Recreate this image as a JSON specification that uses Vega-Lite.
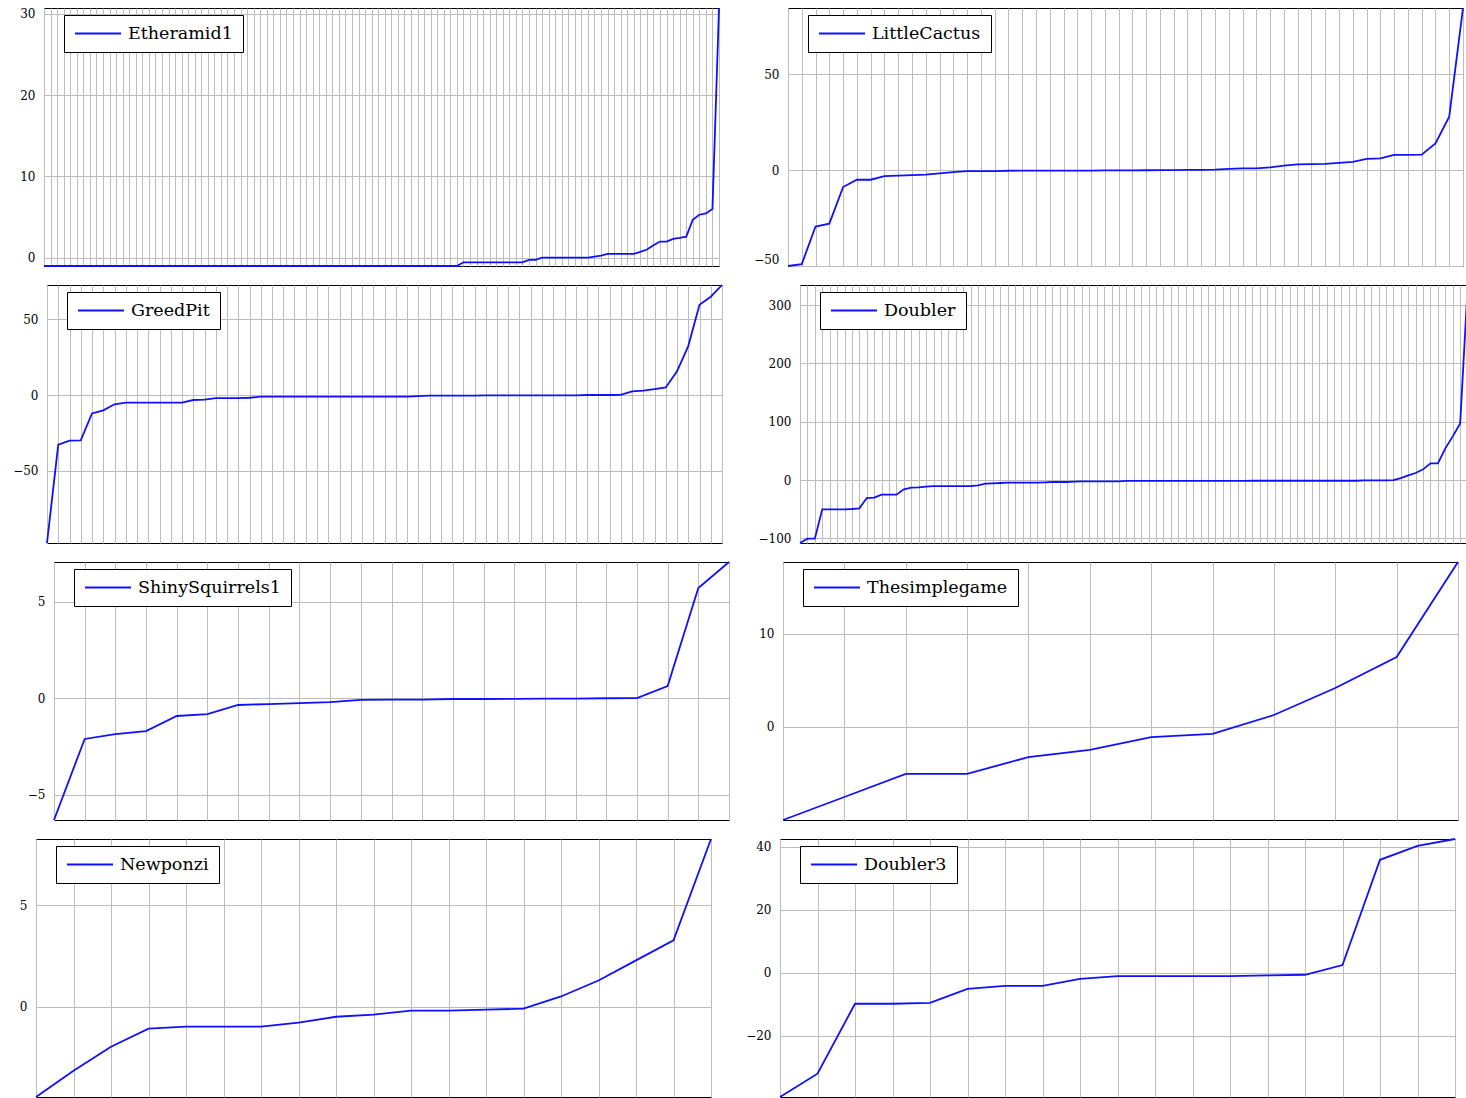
{
  "$schema": "https://vega.github.io/schema/vega-lite/v6.json",
  "padding": {"left": 0, "top": 3, "right": 0, "bottom": 0},
  "background": "white",
  "config": {
    "view": {"stroke": "#000", "strokeWidth": 1},
    "axis": {"labelFont": "DejaVu Serif", "labelFontSize": 12, "labelColor": "#000", "ticks": false, "domain": false, "gridColor": "#bdbdbd", "gridWidth": 1, "gridOpacity": 1, "labelPadding": 9},
    "axisX": {"labelPadding": 0, "minExtent": 0, "maxExtent": 0},
    "legend": {"labelFont": "DejaVu Serif", "labelFontSize": 17.5, "labelColor": "#000", "padding": 10, "strokeColor": "#000", "strokeWidth": 1, "fillColor": "#fff", "symbolType": "stroke", "symbolSize": 2116, "symbolStrokeWidth": 1.8, "labelOffset": 6, "cornerRadius": 0, "orient": "none", "legendX": 20, "legendY": 7, "clipHeight": 17},
    "line": {"strokeWidth": 1.8, "clip": true}
  },
  "columns": 3,
  "align": "none",
  "spacing": {"row": 9, "column": 10},
  "resolve": {"scale": {"color": "independent"}},
  "concat": [
      {"width": 1, "height": 1, "view": {"stroke": null}, "data": {"values": []}, "mark": "point"},
      {
        "width": 675, "height": 258,
        "data": {"values": [
          {"i":0,"v":-1},{"i":1,"v":-1},{"i":2,"v":-1},{"i":3,"v":-1},{"i":4,"v":-1},{"i":5,"v":-1},{"i":6,"v":-1},{"i":7,"v":-1},{"i":8,"v":-1},{"i":9,"v":-1},
          {"i":10,"v":-1},{"i":11,"v":-1},{"i":12,"v":-1},{"i":13,"v":-1},{"i":14,"v":-1},{"i":15,"v":-1},{"i":16,"v":-1},{"i":17,"v":-1},{"i":18,"v":-1},{"i":19,"v":-1},
          {"i":20,"v":-1},{"i":21,"v":-1},{"i":22,"v":-1},{"i":23,"v":-1},{"i":24,"v":-1},{"i":25,"v":-1},{"i":26,"v":-1},{"i":27,"v":-1},{"i":28,"v":-1},{"i":29,"v":-1},
          {"i":30,"v":-1},{"i":31,"v":-1},{"i":32,"v":-1},{"i":33,"v":-1},{"i":34,"v":-1},{"i":35,"v":-1},{"i":36,"v":-1},{"i":37,"v":-1},{"i":38,"v":-1},{"i":39,"v":-1},
          {"i":40,"v":-1},{"i":41,"v":-1},{"i":42,"v":-1},{"i":43,"v":-1},{"i":44,"v":-1},{"i":45,"v":-1},{"i":46,"v":-1},{"i":47,"v":-1},{"i":48,"v":-1},{"i":49,"v":-1},
          {"i":50,"v":-1},{"i":51,"v":-1},{"i":52,"v":-1},{"i":53,"v":-1},{"i":54,"v":-1},{"i":55,"v":-1},{"i":56,"v":-1},{"i":57,"v":-1},{"i":58,"v":-1},{"i":59,"v":-1},
          {"i":60,"v":-1},{"i":61,"v":-1},{"i":62,"v":-1},{"i":63,"v":-1},{"i":64,"v":-0.55},{"i":65,"v":-0.55},{"i":66,"v":-0.55},{"i":67,"v":-0.55},{"i":68,"v":-0.55},{"i":69,"v":-0.55},
          {"i":70,"v":-0.55},{"i":71,"v":-0.55},{"i":72,"v":-0.55},{"i":73,"v":-0.55},{"i":74,"v":-0.25},{"i":75,"v":-0.25},{"i":76,"v":0.04},{"i":77,"v":0.04},{"i":78,"v":0.04},{"i":79,"v":0.04},
          {"i":80,"v":0.04},{"i":81,"v":0.04},{"i":82,"v":0.04},{"i":83,"v":0.04},{"i":84,"v":0.16},{"i":85,"v":0.28},{"i":86,"v":0.49},{"i":87,"v":0.49},{"i":88,"v":0.49},{"i":89,"v":0.49},
          {"i":90,"v":0.49},{"i":91,"v":0.73},{"i":92,"v":1.02},{"i":93,"v":1.55},{"i":94,"v":2.0},{"i":95,"v":2.0},{"i":96,"v":2.33},{"i":97,"v":2.45},{"i":98,"v":2.61},{"i":99,"v":4.69},
          {"i":100,"v":5.3},{"i":101,"v":5.46},{"i":102,"v":6.0},{"i":103,"v":30.7}
        ]},
        "mark": {"type": "line"},
        "encoding": {
          "x": {"field": "i", "type": "quantitative", "scale": {"domain": [0, 103], "nice": false, "zero": false}, "axis": {"title": null, "labels": false, "grid": true, "tickCount": 103}},
          "y": {"field": "v", "type": "quantitative", "scale": {"domain": [-1, 30.7], "nice": false, "zero": false}, "axis": {"title": null, "values": [0, 10, 20, 30], "minExtent": 32}},
          "color": {"datum": "Etheramid1", "type": "nominal", "scale": {"range": ["#1010ff"]}, "legend": {"title": null}}
        }
      },
      {
        "width": 675, "height": 258,
        "data": {"values": [
          {"i":0,"v":-50},{"i":1,"v":-49},{"i":2,"v":-29.4},{"i":3,"v":-27.9},{"i":4,"v":-8.8},{"i":5,"v":-5},{"i":6,"v":-5},{"i":7,"v":-3.1},{"i":8,"v":-2.9},{"i":9,"v":-2.6},
          {"i":10,"v":-2.3},{"i":11,"v":-1.7},{"i":12,"v":-1},{"i":13,"v":-0.5},{"i":14,"v":-0.5},{"i":15,"v":-0.5},{"i":16,"v":-0.3},{"i":17,"v":-0.2},{"i":18,"v":-0.2},{"i":19,"v":-0.2},
          {"i":20,"v":-0.2},{"i":21,"v":-0.2},{"i":22,"v":-0.2},{"i":23,"v":-0.15},{"i":24,"v":-0.1},{"i":25,"v":-0.1},{"i":26,"v":-0.05},{"i":27,"v":0},{"i":28,"v":0},{"i":29,"v":0.2},
          {"i":30,"v":0.2},{"i":31,"v":0.3},{"i":32,"v":0.7},{"i":33,"v":0.9},{"i":34,"v":0.9},{"i":35,"v":1.4},{"i":36,"v":2.4},{"i":37,"v":3},{"i":38,"v":3.1},{"i":39,"v":3.3},
          {"i":40,"v":3.8},{"i":41,"v":4.3},{"i":42,"v":5.9},{"i":43,"v":6.1},{"i":44,"v":8},{"i":45,"v":8},{"i":46,"v":8.1},{"i":47,"v":14},{"i":48,"v":27.9},{"i":49,"v":84.6}
        ]},
        "mark": {"type": "line"},
        "encoding": {
          "x": {"field": "i", "type": "quantitative", "scale": {"domain": [0, 49], "nice": false, "zero": false}, "axis": {"title": null, "labels": false, "grid": true, "tickCount": 49}},
          "y": {"field": "v", "type": "quantitative", "scale": {"domain": [-50, 84.6], "nice": false, "zero": false}, "axis": {"title": null, "values": [-50, 0, 50], "minExtent": 53, "labelFlush": true}},
          "color": {"datum": "LittleCactus", "type": "nominal", "scale": {"range": ["#1010ff"]}, "legend": {"title": null}}
        }
      },
      {"width": 1, "height": 1, "view": {"stroke": null}, "data": {"values": []}, "mark": "point"},
      {
        "width": 675, "height": 258,
        "data": {"values": [
          {"i":0,"v":-97.4},{"i":1,"v":-32.7},{"i":2,"v":-30},{"i":3,"v":-29.8},{"i":4,"v":-12.1},{"i":5,"v":-10.1},{"i":6,"v":-6.1},{"i":7,"v":-5},{"i":8,"v":-5},{"i":9,"v":-5},
          {"i":10,"v":-5},{"i":11,"v":-5},{"i":12,"v":-5},{"i":13,"v":-3.3},{"i":14,"v":-3.1},{"i":15,"v":-2},{"i":16,"v":-2},{"i":17,"v":-2},{"i":18,"v":-1.8},{"i":19,"v":-1.1},
          {"i":20,"v":-1.1},{"i":21,"v":-1.1},{"i":22,"v":-1.1},{"i":23,"v":-1.1},{"i":24,"v":-1.1},{"i":25,"v":-1.1},{"i":26,"v":-1.1},{"i":27,"v":-1.1},{"i":28,"v":-1.1},{"i":29,"v":-1.1},
          {"i":30,"v":-1.1},{"i":31,"v":-1.1},{"i":32,"v":-1.1},{"i":33,"v":-0.7},{"i":34,"v":-0.4},{"i":35,"v":-0.4},{"i":36,"v":-0.4},{"i":37,"v":-0.4},{"i":38,"v":-0.4},{"i":39,"v":-0.2},
          {"i":40,"v":-0.2},{"i":41,"v":-0.2},{"i":42,"v":-0.2},{"i":43,"v":-0.2},{"i":44,"v":-0.2},{"i":45,"v":-0.2},{"i":46,"v":-0.2},{"i":47,"v":-0.2},{"i":48,"v":0},{"i":49,"v":0},
          {"i":50,"v":0},{"i":51,"v":0.1},{"i":52,"v":2.4},{"i":53,"v":2.9},{"i":54,"v":3.9},{"i":55,"v":5},{"i":56,"v":15.6},{"i":57,"v":32.2},{"i":58,"v":59.4},{"i":59,"v":64.7},
          {"i":60,"v":72.4}
        ]},
        "mark": {"type": "line"},
        "encoding": {
          "x": {"field": "i", "type": "quantitative", "scale": {"domain": [0, 60], "nice": false, "zero": false}, "axis": {"title": null, "labels": false, "grid": true, "tickCount": 60}},
          "y": {"field": "v", "type": "quantitative", "scale": {"domain": [-97.4, 72.4], "nice": false, "zero": false}, "axis": {"title": null, "values": [-50, 0, 50], "minExtent": 35}},
          "color": {"datum": "GreedPit", "type": "nominal", "scale": {"range": ["#1010ff"]}, "legend": {"title": null}}
        }
      },
      {
        "width": 675, "height": 258,
        "data": {"values": [
          {"i":0,"v":-108},{"i":1,"v":-100.6},{"i":2,"v":-100.6},{"i":3,"v":-50.3},{"i":4,"v":-50.3},{"i":5,"v":-50.3},{"i":6,"v":-50.3},{"i":7,"v":-49.7},{"i":8,"v":-48.6},{"i":9,"v":-30.9},
          {"i":10,"v":-30.3},{"i":11,"v":-25.1},{"i":12,"v":-25.1},{"i":13,"v":-25.1},{"i":14,"v":-16},{"i":15,"v":-13.1},{"i":16,"v":-12.6},{"i":17,"v":-11.4},{"i":18,"v":-10.3},{"i":19,"v":-10.3},
          {"i":20,"v":-10.3},{"i":21,"v":-10.3},{"i":22,"v":-10.3},{"i":23,"v":-10.3},{"i":24,"v":-9.1},{"i":25,"v":-6.3},{"i":26,"v":-5.7},{"i":27,"v":-5.1},{"i":28,"v":-4.6},{"i":29,"v":-4.6},
          {"i":30,"v":-4.6},{"i":31,"v":-4.6},{"i":32,"v":-4.6},{"i":33,"v":-4},{"i":34,"v":-3.4},{"i":35,"v":-3.4},{"i":36,"v":-3.4},{"i":37,"v":-2.9},{"i":38,"v":-2.3},{"i":39,"v":-2.3},
          {"i":40,"v":-2.3},{"i":41,"v":-2.3},{"i":42,"v":-2.3},{"i":43,"v":-2.3},{"i":44,"v":-1.5},{"i":45,"v":-1.5},{"i":46,"v":-1.5},{"i":47,"v":-1.5},{"i":48,"v":-1.5},{"i":49,"v":-1.5},
          {"i":50,"v":-1.5},{"i":51,"v":-1.5},{"i":52,"v":-1.5},{"i":53,"v":-1.5},{"i":54,"v":-1.5},{"i":55,"v":-1.5},{"i":56,"v":-1.5},{"i":57,"v":-1.5},{"i":58,"v":-1.5},{"i":59,"v":-1.5},
          {"i":60,"v":-1.5},{"i":61,"v":-1.2},{"i":62,"v":-1.2},{"i":63,"v":-1.2},{"i":64,"v":-1.2},{"i":65,"v":-1.2},{"i":66,"v":-1.2},{"i":67,"v":-1.2},{"i":68,"v":-1.2},{"i":69,"v":-1.2},
          {"i":70,"v":-1.2},{"i":71,"v":-1.2},{"i":72,"v":-1.2},{"i":73,"v":-1.2},{"i":74,"v":-1.2},{"i":75,"v":-1.2},{"i":76,"v":-0.6},{"i":77,"v":-0.6},{"i":78,"v":-0.6},{"i":79,"v":-0.6},
          {"i":80,"v":-0.3},{"i":81,"v":3.4},{"i":82,"v":8},{"i":83,"v":12},{"i":84,"v":18.3},{"i":85,"v":28.6},{"i":86,"v":28.6},{"i":87,"v":54.3},{"i":88,"v":74.9},{"i":89,"v":97.1},
          {"i":90,"v":330},{"i":91,"v":334.5}
        ]},
        "mark": {"type": "line"},
        "encoding": {
          "x": {"field": "i", "type": "quantitative", "scale": {"domain": [0, 91], "nice": false, "zero": false}, "axis": {"title": null, "labels": false, "grid": true, "tickCount": 91}},
          "y": {"field": "v", "type": "quantitative", "scale": {"domain": [-108, 334.5], "nice": false, "zero": false}, "axis": {"title": null, "values": [-100, 0, 100, 200, 300], "minExtent": 62}},
          "color": {"datum": "Doubler", "type": "nominal", "scale": {"range": ["#1010ff"]}, "legend": {"title": null}}
        }
      },
      {"width": 1, "height": 1, "view": {"stroke": null}, "data": {"values": []}, "mark": "point"},
      {
        "width": 675, "height": 258,
        "data": {"values": [
          {"i":0,"v":-6.32},{"i":1,"v":-2.12},{"i":2,"v":-1.87},{"i":3,"v":-1.71},{"i":4,"v":-0.93},{"i":5,"v":-0.83},{"i":6,"v":-0.36},{"i":7,"v":-0.31},{"i":8,"v":-0.26},{"i":9,"v":-0.21},
          {"i":10,"v":-0.1},{"i":11,"v":-0.08},{"i":12,"v":-0.08},{"i":13,"v":-0.05},{"i":14,"v":-0.05},{"i":15,"v":-0.04},{"i":16,"v":-0.03},{"i":17,"v":-0.03},{"i":18,"v":-0.01},{"i":19,"v":0},
          {"i":20,"v":0.62},{"i":21,"v":5.7},{"i":22,"v":7.05}
        ]},
        "mark": {"type": "line"},
        "encoding": {
          "x": {"field": "i", "type": "quantitative", "scale": {"domain": [0, 22], "nice": false, "zero": false}, "axis": {"title": null, "labels": false, "grid": true, "tickCount": 22}},
          "y": {"field": "v", "type": "quantitative", "scale": {"domain": [-6.32, 7.05], "nice": false, "zero": false}, "axis": {"title": null, "values": [-5, 0, 5], "minExtent": 42}},
          "color": {"datum": "ShinySquirrels1", "type": "nominal", "scale": {"range": ["#1010ff"]}, "legend": {"title": null}}
        }
      },
      {
        "width": 675, "height": 258,
        "data": {"values": [
          {"i":0,"v":-10},{"i":1,"v":-7.53},{"i":2,"v":-5.05},{"i":3,"v":-5.05},{"i":4,"v":-3.23},{"i":5,"v":-2.47},{"i":6,"v":-1.08},{"i":7,"v":-0.75},{"i":8,"v":1.29},{"i":9,"v":4.19},
          {"i":10,"v":7.53},{"i":11,"v":17.74}
        ]},
        "mark": {"type": "line"},
        "encoding": {
          "x": {"field": "i", "type": "quantitative", "scale": {"domain": [0, 11], "nice": false, "zero": false}, "axis": {"title": null, "labels": false, "grid": true, "tickCount": 11}},
          "y": {"field": "v", "type": "quantitative", "scale": {"domain": [-10, 17.74], "nice": false, "zero": false}, "axis": {"title": null, "values": [0, 10], "minExtent": 38.5}},
          "color": {"datum": "Thesimplegame", "type": "nominal", "scale": {"range": ["#1010ff"]}, "legend": {"title": null}}
        }
      },
      {"width": 1, "height": 1, "view": {"stroke": null}, "data": {"values": []}, "mark": "point"},
      {
        "width": 675, "height": 258,
        "data": {"values": [
          {"i":0,"v":-4.46},{"i":1,"v":-3.17},{"i":2,"v":-1.98},{"i":3,"v":-1.09},{"i":4,"v":-0.99},{"i":5,"v":-0.99},{"i":6,"v":-0.99},{"i":7,"v":-0.79},{"i":8,"v":-0.5},{"i":9,"v":-0.4},
          {"i":10,"v":-0.2},{"i":11,"v":-0.2},{"i":12,"v":-0.15},{"i":13,"v":-0.1},{"i":14,"v":0.5},{"i":15,"v":1.29},{"i":16,"v":2.28},{"i":17,"v":3.27},{"i":18,"v":8.27}
        ]},
        "mark": {"type": "line"},
        "encoding": {
          "x": {"field": "i", "type": "quantitative", "scale": {"domain": [0, 18], "nice": false, "zero": false}, "axis": {"title": null, "labels": false, "grid": true, "tickCount": 18}},
          "y": {"field": "v", "type": "quantitative", "scale": {"domain": [-4.46, 8.27], "nice": false, "zero": false}, "axis": {"title": null, "values": [0, 5], "minExtent": 24}},
          "color": {"datum": "Newponzi", "type": "nominal", "scale": {"range": ["#1010ff"]}, "legend": {"title": null}}
        }
      },
      {
        "width": 675, "height": 258,
        "data": {"values": [
          {"i":0,"v":-39.4},{"i":1,"v":-32},{"i":2,"v":-9.8},{"i":3,"v":-9.8},{"i":4,"v":-9.5},{"i":5,"v":-5.1},{"i":6,"v":-4.1},{"i":7,"v":-4.1},{"i":8,"v":-1.9},{"i":9,"v":-1},
          {"i":10,"v":-1},{"i":11,"v":-1},{"i":12,"v":-1},{"i":13,"v":-0.8},{"i":14,"v":-0.6},{"i":15,"v":2.5},{"i":16,"v":35.9},{"i":17,"v":40.3},{"i":18,"v":42.5}
        ]},
        "mark": {"type": "line"},
        "encoding": {
          "x": {"field": "i", "type": "quantitative", "scale": {"domain": [0, 18], "nice": false, "zero": false}, "axis": {"title": null, "labels": false, "grid": true, "tickCount": 18}},
          "y": {"field": "v", "type": "quantitative", "scale": {"domain": [-39.4, 42.5], "nice": false, "zero": false}, "axis": {"title": null, "values": [-20, 0, 20, 40], "minExtent": 53.5}},
          "color": {"datum": "Doubler3", "type": "nominal", "scale": {"range": ["#1010ff"]}, "legend": {"title": null}}
        }
      }
  ]
}
